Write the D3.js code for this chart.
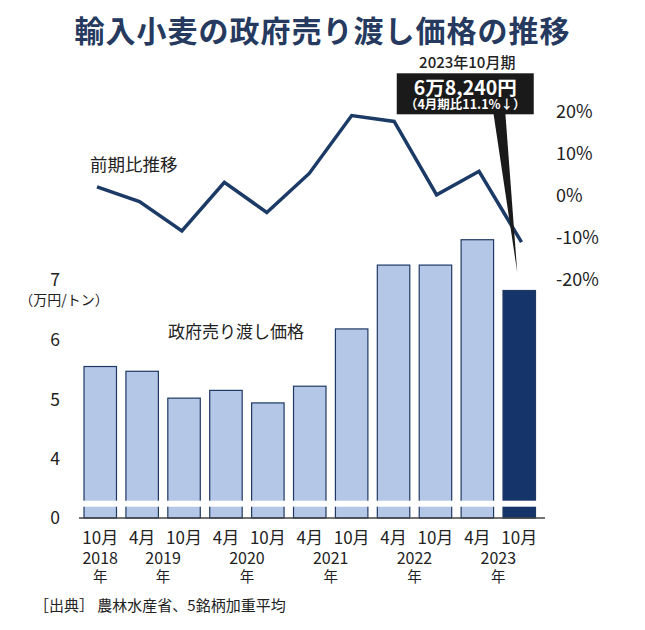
<!DOCTYPE html>
<html>
<head>
<meta charset="utf-8">
<script src="https://cdn.jsdelivr.net/npm/d3@7"></script>
<style>
  body { margin: 0; background: #fff; }
  svg text { font-family: "Noto Sans CJK JP", "Noto Sans", sans-serif; fill: #222; }
</style>
</head>
<body>
<div id="chart"></div>
<script>
// periods of the price revision (April / October)
var months = ['10月', '4月', '10月', '4月', '10月', '4月', '10月', '4月', '10月', '4月', '10月'];
var years = [2018, 2019, 2019, 2020, 2020, 2021, 2021, 2022, 2022, 2023, 2023];
// government resale price, 10,000 yen per ton
var prices = [5.55, 5.47, 5.02, 5.15, 4.94, 5.22, 6.18, 7.25, 7.25, 7.675, 6.824];
// change from previous period, %
var changes = [2.1, -1.4, -8.4, 3.2, -4.0, 5.3, 19.1, 17.7, 0.2, 5.8, -11.1];
var priceTicks = [0, 4, 5, 6, 7];
var changeTicks = [20, 10, 0, -10, -20];

var W = 645, H = 630;
var navy = '#1b3a66';

var svg = d3.select('#chart').append('svg')
    .attr('width', W)
    .attr('height', H);

var ids = d3.range(prices.length);

var x = d3.scaleBand()
    .domain(ids)
    .range([79.3, 540.2])
    .paddingInner(0.225)
    .paddingOuter(0.1125);

// broken axis: 0..4 squeezed under the break
var y = d3.scaleLinear()
    .domain([0, 4, 7])
    .range([518, 459, 280]);

var y2 = d3.scaleLinear()
    .domain([-20, 20])
    .range([279.5, 111.8]);

var xLine = d3.scalePoint()
    .domain(ids)
    .range([97, 521.5]);

// title
svg.append('text')
    .attr('x', W / 2)
    .attr('y', 42)
    .attr('text-anchor', 'middle')
    .style('font-size', '30px')
    .style('font-weight', 700)
    .style('letter-spacing', '1px')
    .style('fill', '#253a5e')
    .text('輸入小麦の政府売り渡し価格の推移');

// bars
svg.append('g').selectAll('rect')
    .data(ids)
    .enter().append('rect')
    .attr('x', function(i) { return x(i); })
    .attr('y', function(i) { return y(prices[i]); })
    .attr('width', x.bandwidth())
    .attr('height', function(i) { return y(0) - y(prices[i]); })
    .attr('fill', function(i) { return i === ids.length - 1 ? '#15356a' : '#b4c7e7'; })
    .attr('stroke', '#1f3864')
    .attr('stroke-width', 1.2);

// axis break band
svg.append('rect')
    .attr('x', 75)
    .attr('y', 500.7)
    .attr('width', 475)
    .attr('height', 6)
    .attr('fill', '#fff');

// baseline
svg.append('line')
    .attr('x1', 79)
    .attr('x2', 545)
    .attr('y1', y(0))
    .attr('y2', y(0))
    .attr('stroke', '#444')
    .attr('stroke-width', 1.5);

// left axis labels
svg.append('g').selectAll('text')
    .data(priceTicks)
    .enter().append('text')
    .attr('x', 55)
    .attr('y', function(d) { return y(d); })
    .attr('dy', '0.36em')
    .attr('text-anchor', 'middle')
    .style('font-size', '17.5px')
    .text(function(d) { return d; });

svg.append('text')
    .attr('x', 64)
    .attr('y', 300)
    .attr('dy', '0.36em')
    .attr('text-anchor', 'middle')
    .style('font-size', '14px')
    .text('（万円/トン）');

svg.append('text')
    .attr('x', 236)
    .attr('y', 332)
    .attr('dy', '0.36em')
    .attr('text-anchor', 'middle')
    .style('font-size', '17px')
    .text('政府売り渡し価格');

// right axis labels
svg.append('g').selectAll('text')
    .data(changeTicks)
    .enter().append('text')
    .attr('x', 556)
    .attr('y', function(d) { return y2(d); })
    .attr('dy', '0.36em')
    .style('font-size', '18px')
    .text(function(d) { return d + '%'; });

// change line
var line = d3.line()
    .x(function(i) { return xLine(i); })
    .y(function(i) { return y2(changes[i]); });

svg.append('path')
    .datum(ids)
    .attr('d', line)
    .attr('fill', 'none')
    .attr('stroke', navy)
    .attr('stroke-width', 3.5)
    .attr('stroke-linejoin', 'miter');

svg.append('text')
    .attr('x', 90)
    .attr('y', 165)
    .attr('dy', '0.36em')
    .style('font-size', '17.5px')
    .text('前期比推移');

// x labels
svg.append('g').selectAll('text')
    .data(ids)
    .enter().append('text')
    .attr('x', function(i) { return x(i) + x.bandwidth() / 2; })
    .attr('y', 538)
    .attr('dy', '0.36em')
    .attr('text-anchor', 'middle')
    .style('font-size', '17px')
    .text(function(i) { return months[i]; });

var yearGroups = d3.groups(ids, function(i) { return years[i]; });

var yg = svg.append('g').selectAll('g')
    .data(yearGroups)
    .enter().append('g')
    .attr('transform', function(d) {
        var cx = d3.mean(d[1], function(i) { return x(i) + x.bandwidth() / 2; });
        return 'translate(' + cx + ',0)';
    });

yg.append('text')
    .attr('y', 558.5)
    .attr('dy', '0.36em')
    .attr('text-anchor', 'middle')
    .style('font-size', '16px')
    .text(function(d) { return d[0]; });

yg.append('text')
    .attr('y', 576.5)
    .attr('dy', '0.36em')
    .attr('text-anchor', 'middle')
    .style('font-size', '14.5px')
    .text('年');

// annotation for the latest period
var last = ids.length - 1;
var lx = x(last) + x.bandwidth() / 2;
var boxCx = lx - 54;

svg.append('path')
    .attr('d', d3.line()([
        [boxCx + 28, 112],
        [boxCx + 40, 112],
        [lx - 2, y(prices[last]) - 18]
    ]) + 'Z')
    .attr('fill', '#1a1a1a');

svg.append('rect')
    .attr('x', boxCx - 68.5)
    .attr('y', 73.3)
    .attr('width', 137)
    .attr('height', 41)
    .attr('fill', '#1a1a1a');

svg.append('text')
    .attr('x', boxCx + 2)
    .attr('y', 63)
    .attr('dy', '0.36em')
    .attr('text-anchor', 'middle')
    .style('font-size', '15px')
    .style('font-weight', 500)
    .text('2023年10月期');

svg.append('text')
    .attr('x', boxCx)
    .attr('y', 87.5)
    .attr('dy', '0.36em')
    .attr('text-anchor', 'middle')
    .style('font-size', '19.5px')
    .style('font-weight', 700)
    .style('fill', '#fff')
    .text('6万8,240円');

svg.append('text')
    .attr('x', boxCx)
    .attr('y', 104)
    .attr('dy', '0.36em')
    .attr('text-anchor', 'middle')
    .style('font-size', '12.5px')
    .style('font-weight', 700)
    .style('fill', '#fff')
    .text('（4月期比11.1%↓）');

// source
svg.append('text')
    .attr('x', 34)
    .attr('y', 606)
    .attr('dy', '0.36em')
    .style('font-size', '15px')
    .text('［出典］ 農林水産省、5銘柄加重平均');
</script>
</body>
</html>
